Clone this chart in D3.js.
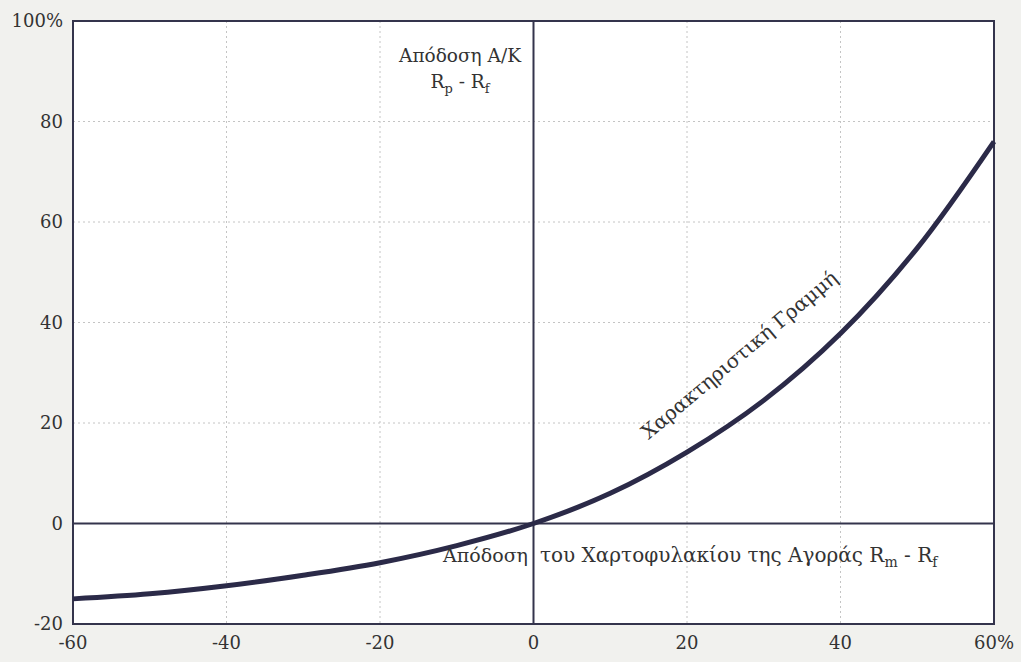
<!DOCTYPE html>
<html>
<head>
<meta charset="utf-8">
<script src="https://cdn.jsdelivr.net/npm/d3@7"></script>
<style>
  body { margin: 0; background: #f1f1ee; }
  svg { display: block; }
</style>
</head>
<body>
<div id="main"></div>
<script>
// values
var xTicks = [-60, -40, -20, 0, 20, 40, 60];
var yTicks = [-20, 0, 20, 40, 60, 80, 100];
var marketReturn = [-60, -50, -40, -30, -20, -10, 0, 10, 20, 30, 40, 50, 60];
var portfolioReturn = [-15, -14, -12.4, -10.3, -7.8, -4.4, 0, 6, 14.2, 24.5, 37.8, 54.8, 76];

var ctx = {
    w: 1021,
    h: 662,
    margin: { top: 21, right: 27, bottom: 38, left: 73 },
    ink: "#34344c",
    font: "'DejaVu Serif', 'Liberation Serif', serif"
};

var svg = d3.select("#main").append("svg")
    .attr("width", ctx.w)
    .attr("height", ctx.h);

var width = ctx.w - ctx.margin.left - ctx.margin.right;
var height = ctx.h - ctx.margin.top - ctx.margin.bottom;

var g = svg.append("g")
    .attr("transform", "translate(" + ctx.margin.left + "," + ctx.margin.top + ")");

var x = d3.scaleLinear().domain([-60, 60]).range([0, width]);
var y = d3.scaleLinear().domain([-20, 100]).range([height, 0]);

g.append("rect")
    .attr("width", width)
    .attr("height", height)
    .style("fill", "#fff");

// dotted grid
g.append("g").selectAll("line")
    .data(xTicks.filter(function (d) { return d !== 0 && d !== -60 && d !== 60; }))
    .enter().append("line")
    .attr("x1", function (d) { return x(d); })
    .attr("x2", function (d) { return x(d); })
    .attr("y1", 0)
    .attr("y2", height)
    .style("stroke", "#c4c4c4")
    .style("stroke-dasharray", "2,3");

g.append("g").selectAll("line")
    .data(yTicks.filter(function (d) { return d > 0 && d < 100; }))
    .enter().append("line")
    .attr("x1", 0)
    .attr("x2", width)
    .attr("y1", function (d) { return y(d); })
    .attr("y2", function (d) { return y(d); })
    .style("stroke", "#c4c4c4")
    .style("stroke-dasharray", "2,3");

// zero axes
g.append("line")
    .attr("x1", 0).attr("x2", width)
    .attr("y1", y(0)).attr("y2", y(0))
    .style("stroke", ctx.ink).style("stroke-width", 2);
g.append("line")
    .attr("x1", x(0)).attr("x2", x(0))
    .attr("y1", 0).attr("y2", height)
    .style("stroke", ctx.ink).style("stroke-width", 2);

g.append("rect")
    .attr("width", width)
    .attr("height", height)
    .style("fill", "none")
    .style("stroke", ctx.ink)
    .style("stroke-width", 2);

// tick labels
g.append("g").selectAll("text")
    .data(yTicks)
    .enter().append("text")
    .attr("x", -10)
    .attr("y", function (d) { return y(d); })
    .attr("dy", "0.36em")
    .attr("text-anchor", "end")
    .style("font-family", ctx.font)
    .style("font-size", "18px")
    .style("fill", "#333")
    .text(function (d) { return d === 100 ? "100%" : d; });

g.append("g").selectAll("text")
    .data(xTicks)
    .enter().append("text")
    .attr("x", function (d) { return x(d); })
    .attr("y", height + 25)
    .attr("text-anchor", "middle")
    .style("font-family", ctx.font)
    .style("font-size", "18px")
    .style("fill", "#333")
    .text(function (d) { return d === 60 ? "60%" : d; });

// characteristic line
var line = d3.line()
    .x(function (d) { return x(d[0]); })
    .y(function (d) { return y(d[1]); })
    .curve(d3.curveCatmullRom);

g.append("path")
    .datum(d3.zip(marketReturn, portfolioReturn))
    .attr("d", line)
    .style("fill", "none")
    .style("stroke", "#2b2a48")
    .style("stroke-width", 5);

// annotations
var yLab = g.append("text")
    .attr("text-anchor", "middle")
    .style("font-family", ctx.font)
    .style("font-size", "18.5px")
    .style("fill", "#333");
yLab.append("tspan").attr("x", 387).attr("y", 41).text("Απόδοση Α/Κ");
var r2 = yLab.append("tspan").attr("x", 387).attr("y", 67);
r2.append("tspan").text("R");
r2.append("tspan").attr("dy", 5).style("font-size", "13px").text("p");
r2.append("tspan").attr("dy", -5).text(" - R");
r2.append("tspan").attr("dy", 5).style("font-size", "13px").text("f");

g.append("text")
    .attr("x", 455)
    .attr("y", 541)
    .attr("text-anchor", "end")
    .style("font-family", ctx.font)
    .style("font-size", "19px")
    .style("fill", "#333")
    .text("Απόδοση");

var xLab = g.append("text")
    .attr("x", 467)
    .attr("y", 541)
    .style("font-family", ctx.font)
    .style("font-size", "20px")
    .style("fill", "#333");
xLab.append("tspan").text("του Χαρτοφυλακίου της Αγοράς R");
xLab.append("tspan").attr("dy", 5).style("font-size", "14px").text("m");
xLab.append("tspan").attr("dy", -5).text(" - R");
xLab.append("tspan").attr("dy", 5).style("font-size", "14px").text("f");

g.append("text")
    .attr("transform", "translate(" + x(27.4) + "," + y(32.5) + ") rotate(-40)")
    .attr("text-anchor", "middle")
    .style("font-family", ctx.font)
    .style("font-size", "20px")
    .style("fill", "#333")
    .text("Χαρακτηριστική Γραμμή");
</script>
</body>
</html>
